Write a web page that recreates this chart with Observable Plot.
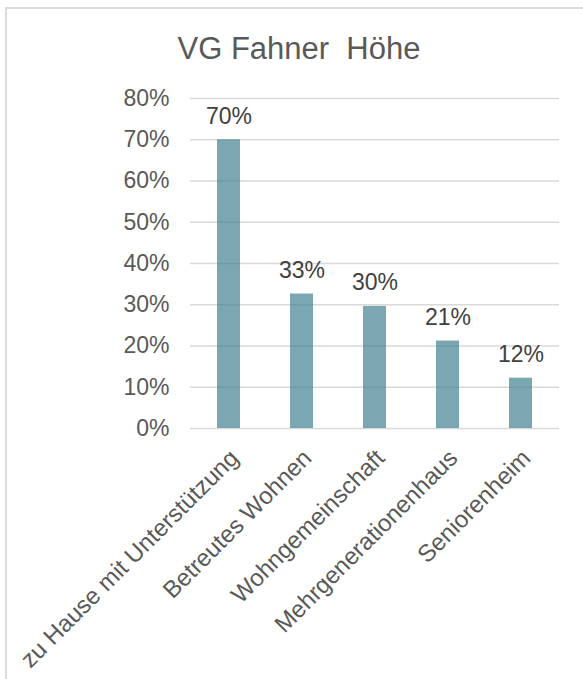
<!DOCTYPE html>
<html>
<head>
<meta charset="utf-8">
<script src="https://cdn.jsdelivr.net/npm/d3@7"></script>
<script src="https://cdn.jsdelivr.net/npm/@observablehq/plot@0.6"></script>
<style>
  html, body { margin: 0; padding: 0; background: #fff; overflow: hidden; }
  #wrap { position: relative; width: 583px; height: 679px; overflow: hidden; font-family: "Liberation Sans", Arial, sans-serif; }
  #frame { position: absolute; left: 5px; top: 7px; width: 900px; height: 900px; border-top: 2px solid #dcdcdc; border-left: 2px solid #dcdcdc; box-sizing: border-box; }
  #title { position: absolute; left: 15px; right: 0; top: 33px; text-align: center; font-size: 31px; line-height: 31px; color: #595959; white-space: pre; }
  #chart { position: absolute; left: 0; top: 80px; }
</style>
</head>
<body>
<div id="wrap">
  <div id="frame"></div>
  <div id="title">VG Fahner  Höhe</div>
  <div id="chart"></div>
</div>
<script>
const categories = ["zu Hause mit Unterstützung", "Betreutes Wohnen", "Wohngemeinschaft", "Mehrgenerationenhaus", "Seniorenheim"];
const values = [0.70, 0.326, 0.296, 0.212, 0.122];
const yTicks = [0, 0.1, 0.2, 0.3, 0.4, 0.5, 0.6, 0.7, 0.8];

const data = categories.map((c, i) => ({category: c, value: values[i]}));
const pct = d => Math.round(d * 100) + "%";

const chart = Plot.plot({
  width: 583,
  height: 599,
  marginTop: 18,
  marginBottom: 251,
  marginLeft: 190,
  marginRight: 24,
  style: {fontFamily: "'Liberation Sans', Arial, sans-serif", background: "transparent", overflow: "visible"},
  x: {domain: categories, paddingInner: 0.69, paddingOuter: 0.345, axis: null},
  y: {domain: [0, 0.8], axis: null},
  marks: [
    Plot.ruleY(yTicks, {stroke: "#d9d9d9", strokeWidth: 1.3}),
    Plot.barY(data, {x: "category", y: "value", fill: "#428192", fillOpacity: 0.7}),
    Plot.text(yTicks, {y: d => d, text: pct, frameAnchor: "left", textAnchor: "end", dx: -21, fontSize: 23, fill: "#595959"}),
    Plot.text(data, {x: "category", y: "value", text: d => pct(d.value), dy: -16, lineAnchor: "bottom", fontSize: 23, fill: "#404040"}),
    Plot.text(data, {x: "category", text: "category", frameAnchor: "bottom", rotate: -45, textAnchor: "end", lineAnchor: "bottom", dx: 11, dy: 31, fontSize: 24, fill: "#595959"})
  ]
});
document.getElementById("chart").appendChild(chart);
</script>
</body>
</html>
